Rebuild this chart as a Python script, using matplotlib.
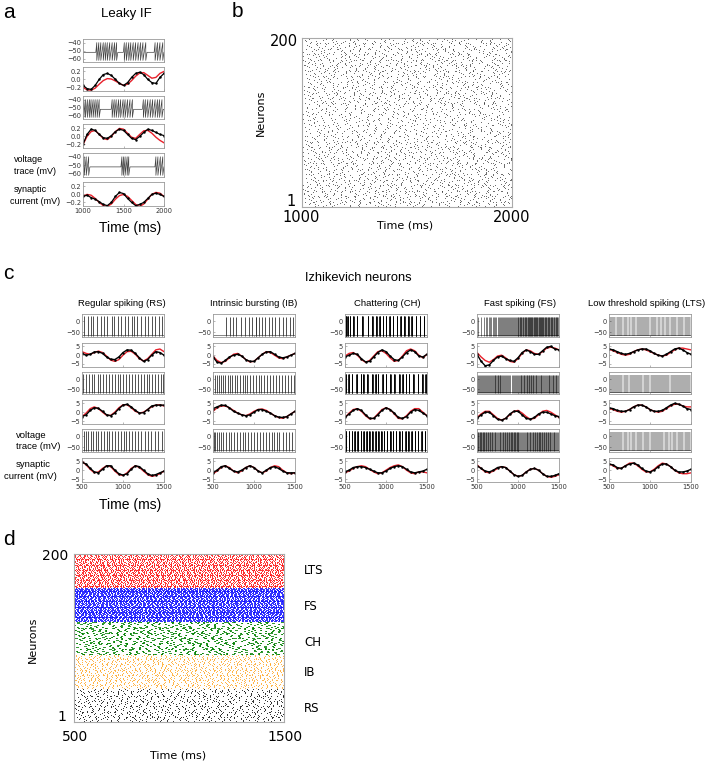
import numpy as np
import matplotlib
matplotlib.use('Agg')
import matplotlib.pyplot as plt

# ---------------- data ----------------
# panel a: leaky integrate-and-fire, 1000-2000 ms, samples every 50 ms
lif_spikes = [
    [1170, 1195, 1220, 1250, 1275, 1300, 1330, 1360, 1390, 1415,
     1510, 1535, 1565, 1590, 1620, 1650, 1680, 1710, 1740, 1775,
     1890, 1920, 1950, 1985],
    [1010, 1030, 1055, 1080, 1100, 1125, 1150, 1175, 1200,
     1360, 1385, 1410, 1440, 1465, 1495, 1520, 1550, 1580, 1610,
     1745, 1770, 1800, 1830, 1860, 1890, 1920, 1945, 1975],
    [1015, 1040, 1070, 1480, 1500, 1520, 1545, 1565, 1900, 1925, 1955, 1985],
]
lif_red = [
    [-0.2, -0.26, -0.27, -0.22, -0.12, -0.03, 0.02, 0.01, -0.04, -0.1, -0.15,
     -0.12, -0.03, 0.08, 0.16, 0.17, 0.1, 0.03, 0.05, 0.15, 0.2],
    [-0.2, 0.0, 0.12, 0.15, 0.05, -0.05, -0.08, 0.0, 0.12, 0.2, 0.18,
     0.08, -0.02, -0.05, 0.05, 0.14, 0.15, 0.08, -0.02, -0.1, -0.16],
    [-0.05, 0.0, -0.02, -0.1, -0.2, -0.28, -0.3, -0.24, -0.12, -0.03, 0.0,
     -0.05, -0.15, -0.25, -0.3, -0.24, -0.12, 0.0, 0.05, 0.03, -0.05],
]
lif_black = [
    [-0.15, -0.23, -0.25, -0.15, 0.0, 0.12, 0.15, 0.1, 0.0, -0.1, -0.15,
     -0.08, 0.05, 0.15, 0.18, 0.12, 0.0, -0.08, -0.1, 0.05, 0.15],
    [-0.2, 0.05, 0.18, 0.15, 0.05, -0.03, -0.05, 0.02, 0.12, 0.18, 0.15,
     0.05, -0.05, -0.08, 0.0, 0.1, 0.18, 0.15, 0.1, 0.05, 0.02],
    [-0.05, -0.02, -0.08, -0.12, -0.18, -0.25, -0.28, -0.2, -0.05, 0.05, 0.02,
     -0.1, -0.2, -0.28, -0.25, -0.2, -0.1, 0.0, 0.03, 0.0, -0.05],
]

# panel c: Izhikevich neurons, 500-1500 ms
rs_spikes = [
    [530, 570, 605, 640, 680, 730, 765, 810, 860, 895, 935, 975, 1025, 1065,
     1105, 1135, 1170, 1225, 1265, 1305, 1355, 1395, 1435, 1470],
    [512, 548, 580, 618, 652, 690, 722, 760, 792, 828, 866, 898, 936, 968,
     1004, 1042, 1074, 1110, 1146, 1180, 1218, 1250, 1288, 1322, 1356, 1392,
     1428, 1462, 1492],
    [520, 545, 575, 605, 640, 668, 700, 735, 770, 800, 830, 870, 905, 945,
     975, 1010, 1040, 1075, 1110, 1150, 1185, 1225, 1265, 1300, 1345, 1390,
     1430, 1475],
]
ib_spikes = [
    [655, 705, 745, 785, 840, 890, 940, 980, 1020, 1030, 1060, 1100, 1140,
     1180, 1225, 1260, 1310, 1350, 1395, 1440, 1475],
    [505, 520, 545, 570, 595, 620, 650, 680, 705, 735, 765, 795, 825, 860,
     890, 920, 955, 990, 1020, 1055, 1090, 1125, 1160, 1195, 1230, 1265,
     1300, 1340, 1375, 1410, 1450, 1485],
    [510, 530, 550, 575, 600, 625, 655, 690, 720, 755, 790, 825, 860, 890,
     930, 965, 1000, 1040, 1075, 1110, 1150, 1185, 1220, 1240, 1275, 1310,
     1350, 1390, 1430, 1465],
]
ch_bursts = [
    [510, 530, 560, 600, 645, 710, 780, 830, 880, 920, 960, 1000, 1040, 1085,
     1130, 1175, 1220, 1270, 1310, 1360, 1410, 1460],
    [505, 540, 580, 640, 690, 720, 770, 830, 870, 900, 955, 1000, 1050, 1100,
     1160, 1200, 1240, 1280, 1330, 1390, 1440, 1480],
    [510, 545, 580, 615, 650, 690, 725, 760, 795, 830, 870, 905, 940, 975,
     1010, 1050, 1085, 1120, 1160, 1195, 1235, 1270, 1310, 1350, 1390, 1430,
     1470],
]
# firing rate (Hz) per 100 ms bin for the dense traces
fs_rates = [
    [30, 60, 70, 80, 90, 130, 150, 150, 140, 130],
    [90, 80, 110, 80, 70, 110, 120, 100, 90, 110],
    [140, 120, 100, 120, 140, 90, 110, 130, 120, 100],
]
lts_rates = [
    [70, 70, 65, 70, 75, 70, 65, 70, 70, 70],
    [75, 70, 70, 75, 70, 80, 75, 70, 75, 75],
    [80, 70, 65, 70, 70, 75, 70, 65, 70, 70],
]

rs_red = [
    [2.0, 1.0, 0.5, 1.5, 2.3, 1.5, -0.5, -2.8, -3.5, -2.5, 0.0, 2.0, 2.2, 0.5, -2.0, -3.3, -2.0, 0.5, 3.0, 3.5, 2.0],
    [-2.5, -0.5, 2.0, 3.0, 2.0, 0.0, -1.8, -1.8, 0.0, 2.5, 4.2, 4.2, 2.5, 0.5, -0.5, 0.0, 1.5, 3.0, 4.0, 4.2, 3.5],
    [5.0, 3.0, 0.5, -1.5, -1.0, 1.0, 2.5, 2.0, -0.5, -2.5, -3.0, -1.5, 1.0, 2.5, 1.5, -0.5, -2.5, -3.5, -3.0, -2.0, -0.5],
]
rs_black = [
    [1.0, 0.0, 0.5, 1.8, 2.0, 1.0, -1.0, -2.3, -2.5, -1.0, 1.5, 3.0, 2.8, 1.0, -1.5, -3.5, -2.5, 0.0, 2.0, 1.5, 0.0],
    [-2.5, -1.5, 1.0, 2.5, 2.2, 0.5, -1.5, -2.0, -0.5, 2.0, 4.0, 4.5, 3.0, 1.0, -0.5, -0.3, 1.5, 3.5, 4.0, 4.0, 4.0],
    [4.5, 3.5, 1.0, -1.0, -1.5, 0.5, 2.5, 2.5, 0.0, -2.0, -2.8, -2.0, 0.5, 2.5, 2.0, 0.0, -2.0, -3.0, -2.5, -1.5, -0.5],
]
ib_red = [
    [-0.5, -3.0, -4.2, -3.5, -1.5, 0.5, 1.0, -0.5, -2.5, -3.8, -3.5, -1.5, 0.5, 2.0, 1.5, 0.0, -1.5, -2.0, -1.0, 0.0, 1.0],
    [0.5, 2.5, 3.5, 3.5, 2.5, 1.0, -0.5, -1.5, -2.0, -1.0, 0.5, 1.5, 1.8, 1.0, -0.5, -2.0, -3.0, -3.5, -2.5, -1.0, 0.5],
    [-2.0, -0.5, 1.5, 2.5, 1.5, -0.5, -1.5, -0.5, 1.5, 2.5, 1.5, -0.5, -1.5, -0.5, 1.5, 2.5, 2.0, 0.0, -1.5, -2.0, -1.5],
]
ib_black = [
    [-1.0, -4.0, -4.5, -3.0, -1.0, 0.0, 0.5, -0.5, -2.5, -3.5, -3.5, -1.5, 0.5, 1.8, 2.0, 0.5, -1.0, -1.5, -1.0, 0.0, 1.0],
    [2.0, 3.0, 4.0, 3.8, 2.5, 0.5, -0.5, -1.5, -2.0, -1.5, 0.0, 1.5, 1.5, 0.5, -0.5, -2.0, -2.8, -3.0, -2.5, -1.0, 0.5],
    [-1.5, 0.0, 2.0, 2.5, 1.0, -0.5, -1.0, 0.0, 1.5, 2.5, 1.5, -0.5, -1.5, 0.0, 1.5, 2.0, 1.0, -0.5, -1.5, -1.5, -1.5],
]
ch_red = [
    [-0.5, 1.0, 1.5, 0.0, -2.5, -4.0, -3.0, -0.5, 2.0, 2.5, 1.0, -1.5, -3.5, -3.0, -0.5, 2.5, 3.5, 2.5, 0.0, -1.5, 0.5],
    [-3.0, -0.5, 1.5, 2.0, 0.5, -2.0, -3.8, -3.5, -1.0, 1.5, 2.5, 1.5, -1.0, -3.5, -3.8, -2.0, 0.5, 2.0, 2.0, 0.0, -2.0],
    [-1.5, -0.5, 1.0, 2.0, 2.5, 2.0, 0.5, -1.0, -2.0, -1.5, 0.0, 1.5, 2.5, 3.0, 2.0, 0.0, -1.5, -2.0, -1.0, -1.0, -1.5],
]
ch_black = [
    [-1.0, 0.0, 1.0, 0.5, -2.0, -3.8, -3.5, -1.0, 1.5, 3.0, 2.0, -0.5, -2.5, -3.0, -1.0, 1.5, 3.0, 2.0, -0.5, -1.0, 0.5],
    [-3.0, -1.0, 1.0, 2.0, 1.0, -1.5, -3.5, -3.5, -1.5, 1.0, 2.5, 1.5, -0.5, -3.0, -3.5, -2.5, 0.0, 1.5, 1.0, -0.5, -2.0],
    [-1.0, 0.0, 1.5, 2.0, 2.0, 1.5, 0.5, -0.5, -1.5, -1.5, -0.5, 1.0, 2.0, 2.5, 2.0, 0.5, -1.0, -1.5, -1.0, -0.5, 0.5],
]
fs_red = [
    [1.5, -1.0, -3.0, -4.0, -2.5, -0.5, 0.0, -1.5, -3.5, -4.0, -2.0, 1.0, 3.0, 2.5, 1.0, 0.5, 2.0, 4.0, 4.5, 4.0, 3.0],
    [-3.0, -1.0, 0.5, 0.5, -1.5, -3.5, -4.5, -3.5, -1.5, 0.5, 1.0, -0.5, -2.5, -4.0, -3.5, -1.5, 0.5, 1.0, 0.0, -1.5, -3.0],
    [3.0, 1.0, -1.0, -1.5, -0.5, 1.0, 2.0, 1.5, -0.5, -2.5, -3.5, -3.0, -1.0, 0.5, 1.0, 0.0, -2.0, -3.5, -4.0, -3.5, -2.5],
]
fs_black = [
    [0.5, -3.5, -6.0, -5.5, -3.0, -1.0, -0.5, -2.0, -3.0, -3.5, -1.5, 1.5, 3.0, 2.0, 0.5, 0.5, 2.5, 4.5, 5.0, 3.5, 3.0],
    [-3.5, -1.5, 0.0, 0.0, -2.0, -4.0, -4.5, -3.5, -1.0, 0.5, 0.5, -1.5, -3.5, -4.0, -3.0, -1.0, 0.0, 0.0, -1.0, -2.0, -2.5],
    [2.5, 1.0, -0.5, -1.0, 0.0, 1.5, 2.0, 1.5, -0.5, -2.5, -3.5, -3.0, -1.0, 0.5, 1.0, 0.0, -2.0, -3.5, -3.5, -3.0, -2.0],
]
lts_red = [
    [3.5, 2.5, 1.5, 0.5, 0.0, 0.5, 2.0, 3.0, 3.5, 3.0, 2.0, 1.0, 0.0, -0.5, 0.0, 1.5, 3.0, 4.0, 4.0, 3.5, 3.0],
    [2.0, 1.5, 0.5, 0.0, 0.5, 1.5, 3.0, 4.0, 4.0, 3.0, 1.5, 0.5, 0.0, 0.5, 2.0, 3.5, 4.5, 4.5, 3.5, 3.0, 3.0],
    [3.5, 2.5, 1.0, 1.0, 2.5, 4.0, 4.0, 2.5, 0.5, -1.0, -1.0, 0.5, 2.5, 4.0, 3.5, 2.0, 0.0, -1.5, -2.0, -2.0, -1.5],
]
lts_black = [
    [3.5, 3.0, 2.0, 1.0, 0.5, 1.0, 2.0, 3.0, 3.5, 3.5, 2.5, 1.0, 0.0, -0.5, 0.5, 2.0, 3.5, 4.0, 3.0, 1.5, 0.5],
    [2.5, 2.0, 1.0, 0.5, 0.5, 1.5, 3.0, 4.0, 4.0, 3.0, 1.5, 0.5, 0.5, 1.0, 2.5, 4.0, 5.0, 4.5, 3.5, 2.0, 1.5],
    [3.5, 3.0, 1.5, 1.0, 2.5, 3.5, 4.0, 3.0, 1.0, -0.5, -1.0, 0.0, 2.0, 3.5, 3.5, 2.0, 0.0, -1.0, -1.0, -0.5, 0.5],
]

col_titles = ['Regular spiking (RS)', 'Intrinsic bursting (IB)', 'Chattering (CH)',
              'Fast spiking (FS)', 'Low threshold spiking (LTS)']

# panel b: mean rate (Hz) per band of 20 neurons
lif_band_rates = [17, 17, 16, 16, 14, 13, 16, 15, 17, 17]
# panel d: populations of 40 neurons, bottom to top
groups = ['RS', 'IB', 'CH', 'FS', 'LTS']
group_rates = [22, 34, 20, 140, 85]
group_burst = [1, 1, 3, 1, 1]
group_colors = ['black', '#ffa31a', 'green', 'blue', 'red']

# ---------------- drawing ----------------
W, H = 713, 764
fig = plt.figure(figsize=(W / 100, H / 100), dpi=100)
SANS = 'Liberation Sans'
RED = '#e8202a'


def fax(x0, y0, x1, y1):
    return fig.add_axes([x0 / W, 1 - y1 / H, (x1 - x0) / W, (y1 - y0) / H])


def ftxt(x, y, s, **kw):
    fig.text(x / W, 1 - y / H, s, **kw)


def style(ax, xlim, ylim, yticks, ylabels, show_x):
    ax.set_xlim(xlim)
    ax.set_ylim(ylim)
    ax.set_yticks(yticks)
    ax.set_yticklabels(ylabels)
    ax.set_xticks([xlim[0], (xlim[0] + xlim[1]) / 2, xlim[1]])
    if not show_x:
        ax.set_xticklabels([])
    ax.tick_params(labelsize=4.8, length=1.5, width=0.5, pad=1.5, color='#999',
                   labelcolor='#333', direction='in')
    for sp in ax.spines.values():
        sp.set_color('#999')
        sp.set_linewidth(0.6)


def lif_trace(spikes):
    t, v = [1000.0], [-52.0]
    prev = None
    for s in spikes:
        if prev is None or s - prev > 60:
            if prev is not None:
                t.append(prev + 15); v.append(-52)
            t.append(s - 12); v.append(-52)
        t += [s, s]; v += [-40, -62]
        prev = s
    t += [min(prev + 15, 2000), 2000]; v += [-52, -52]
    return t, v


def rate_spikes(rates, t0):
    out = []
    for i, r in enumerate(rates):
        n = int(round(r / 10))
        out.extend(t0 + i * 100 + (np.arange(n) + 0.5) * 100.0 / n)
    return np.array(out)


def raster(rows, rate, burst, t0, span):
    # spike dots are far too dense to read one by one: lay each row out
    # at the rate read for its band, with fixed (non-random) offsets
    xs, ys = [], []
    for n in rows:
        isi = 1000.0 / rate * (0.8 + 0.4 * ((n * 0.7548777) % 1))
        k = np.arange(int(span / isi) + 2)
        jit = (((k * 0.618034 + n * 0.4142136) % 1) - 0.5) * 0.8 * isi
        t = t0 + ((n * 0.381966) % 1) * isi + k * isi + jit
        for b in range(burst):
            xs.append(t + b * 3.0)
            ys.append(np.full(len(t), n))
    return np.concatenate(xs), np.concatenate(ys)


# ---- panel a ----
a_rows = [(39, 62), (67, 91), (96, 119), (124, 148), (153, 177), (182, 206)]
t_lif = np.arange(1000, 2001, 50)
for r in range(3):
    av = fax(83, a_rows[2 * r][0], 164, a_rows[2 * r][1])
    tt, vv = lif_trace(lif_spikes[r])
    av.plot(tt, vv, color='#444', lw=0.5)
    style(av, (1000, 2000), (-64, -35.5), [-60, -50, -40], ['\u221260', '\u221250', '\u221240'], False)
    ac = fax(83, a_rows[2 * r + 1][0], 164, a_rows[2 * r + 1][1])
    ac.plot(t_lif, lif_red[r], color=RED, lw=1.0)
    ac.plot(t_lif, lif_black[r], color='k', lw=0.9, marker='.', ms=1.5)
    style(ac, (1000, 2000), (-0.29, 0.31), [-0.2, 0.0, 0.2], ['\u22120.2', '0.0', '0.2'], r == 2)

ftxt(3, 18, 'a', fontsize=15, family=SANS)
ftxt(126, 17, 'Leaky IF', fontsize=9.5, family=SANS, ha='center')
ftxt(130, 232, 'Time (ms)', fontsize=10, family=SANS, ha='center')
ftxt(14, 162, 'voltage', fontsize=6.5, family=SANS)
ftxt(14, 174, 'trace (mV)', fontsize=6.5, family=SANS)
ftxt(14, 192, 'synaptic', fontsize=6.5, family=SANS)
ftxt(10, 204, 'current (mV)', fontsize=6.5, family=SANS)

# ---- panel b ----
ab = fax(302, 38, 512, 207)
for i, rate in enumerate(lif_band_rates):
    x, y = raster(range(1 + 20 * i, 21 + 20 * i), rate, 1, 1000, 1000)
    ab.plot(x, y, ls='', marker='.', ms=1.1, mew=0, color='#333')
ab.set_xlim(1000, 2000)
ab.set_ylim(0.5, 200.5)
ab.set_xticks([]); ab.set_yticks([])
for sp in ab.spines.values():
    sp.set_color('#aaa'); sp.set_linewidth(0.8)
ftxt(232, 17, 'b', fontsize=15, family=SANS)
ftxt(298, 41, '200', fontsize=10.5, ha='right', va='center')
ftxt(296, 202, '1', fontsize=10.5, ha='right', va='center')
ftxt(301, 218, '1000', fontsize=10.5, ha='center', va='center')
ftxt(512, 218, '2000', fontsize=10.5, ha='center', va='center')
ftxt(405, 228, 'Time (ms)', fontsize=8, ha='center')
ftxt(261, 113, 'Neurons', fontsize=8, ha='center', va='center', rotation=90)

# ---- panel c ----
c_left = [82, 213, 345, 477, 609]
c_rows = [(314, 337), (343, 367), (372, 394), (400, 424), (429, 452), (458, 482)]
t_izh = np.arange(500, 1501, 50)
reds = [rs_red, ib_red, ch_red, fs_red, lts_red]
blacks = [rs_black, ib_black, ch_black, fs_black, lts_black]
for j in range(5):
    x0 = c_left[j]
    for r in range(3):
        av = fax(x0, c_rows[2 * r][0], x0 + 82, c_rows[2 * r][1])
        av.plot([500, 1500], [-65, -65], color='#555', lw=0.5)
        if j == 0:
            av.vlines(rs_spikes[r], -66, 25, color='#333', lw=0.6)
        elif j == 1:
            av.vlines(ib_spikes[r], -66, 22, color='#333', lw=0.6)
        elif j == 2:
            b = np.array(ch_bursts[r])
            av.vlines(np.concatenate([b, b + 3, b + 6]), -66, 25, color='k', lw=0.6)
        elif j == 3:
            av.vlines(rate_spikes(fs_rates[r], 500), -66, 20, color='k', lw=0.4, alpha=0.9)
        else:
            av.vlines(rate_spikes(lts_rates[r], 500), -66, 20, color='k', lw=0.35, alpha=0.7)
        style(av, (500, 1500), (-73, 35), [-50, 0], ['\u221250', '0'], False)
        ac = fax(x0, c_rows[2 * r + 1][0], x0 + 82, c_rows[2 * r + 1][1])
        ac.plot(t_izh, reds[j][r], color=RED, lw=1.0)
        ac.plot(t_izh, blacks[j][r], color='k', lw=1.0, marker='.', ms=1.5)
        style(ac, (500, 1500), (-6.7, 6.9), [-5, 0, 5], ['\u22125', '0', '5'], r == 2)

ftxt(3, 279, 'c', fontsize=15, family=SANS)
ftxt(358, 281, 'Izhikevich neurons', fontsize=9.3, family=SANS, ha='center')
for cx, title in zip([122, 254, 387, 520, 647], col_titles):
    ftxt(cx, 306, title, fontsize=6.8, family=SANS, ha='center')
ftxt(130, 509, 'Time (ms)', fontsize=10, family=SANS, ha='center')
ftxt(16, 438, 'voltage', fontsize=6.8, family=SANS)
ftxt(16, 449, 'trace (mV)', fontsize=6.8, family=SANS)
ftxt(16, 467, 'synaptic', fontsize=6.8, family=SANS)
ftxt(4, 479, 'current (mV)', fontsize=6.8, family=SANS)

# ---- panel d ----
ad = fax(74, 554, 284, 722)
for g in range(5):
    x, y = raster(range(1 + 40 * g, 41 + 40 * g), group_rates[g], group_burst[g], 500, 1000)
    ad.plot(x, y, ls='', marker='.', ms=1.2, mew=0, color=group_colors[g])
ad.set_xlim(500, 1500)
ad.set_ylim(0.5, 200.5)
ad.set_xticks([]); ad.set_yticks([])
for sp in ad.spines.values():
    sp.set_color('#aaa'); sp.set_linewidth(0.8)
ftxt(3, 545, 'd', fontsize=15, family=SANS)
ftxt(68, 556, '200', fontsize=10, ha='right', va='center')
ftxt(66, 717, '1', fontsize=10, ha='right', va='center')
ftxt(75, 737, '500', fontsize=10, ha='center', va='center')
ftxt(285, 737, '1500', fontsize=10, ha='center', va='center')
ftxt(178, 755, 'Time (ms)', fontsize=8, ha='center', va='center')
ftxt(33, 640, 'Neurons', fontsize=8, ha='center', va='center', rotation=90)
for name, yy in zip(groups, [708, 673, 642, 607, 571]):
    ftxt(304, yy, name, fontsize=8.5, va='center')

fig.savefig('out.png', dpi=100)
